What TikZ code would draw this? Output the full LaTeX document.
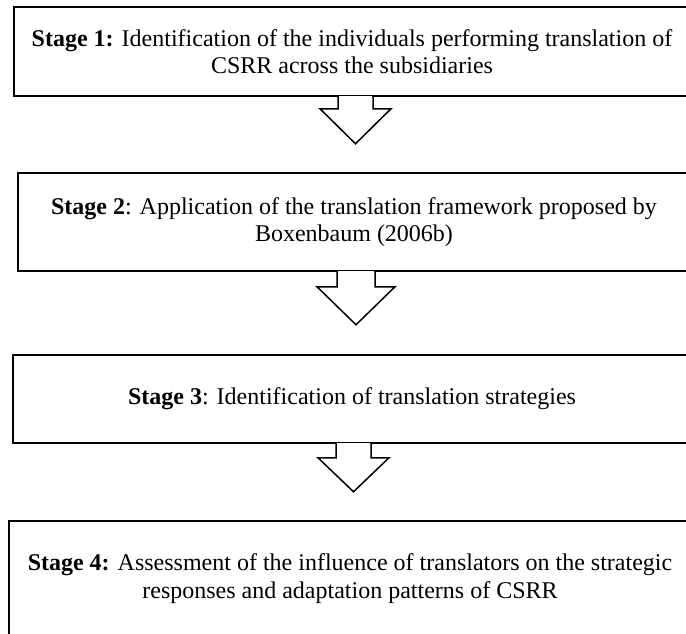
\documentclass[tikz,border=0pt]{standalone}
\usepackage{fontspec}
\setmainfont{Liberation Serif}
\usetikzlibrary{calc}

\tikzset{
  stagebox/.style={draw=black, line width=1.5pt, rectangle, align=center,
    inner sep=0pt, font=\fontsize{24}{27.6}\selectfont},
  outline/.style={draw=black, line width=1.5pt, line join=miter}
}

% block arrow hanging from a box bottom:
% #1 anchor coordinate, #2 half stem width, #3 half head width,
% #4 shoulder depth, #5 tip depth
\newcommand{\blockarrow}[5]{%
  \fill[white] ($(#1)+(-#2+0.75,-1.2)$) rectangle ($(#1)+(#2-0.75,1.2)$);
  \draw[outline] ($(#1)+(-#2,-0.75)$) -- ($(#1)+(-#2,#4)$) -- ($(#1)+(-#3,#4)$)
    -- ($(#1)+(0,#5)$) -- ($(#1)+(#3,#4)$) -- ($(#1)+(#2,#4)$) -- ($(#1)+(#2,-0.75)$);
}

\begin{document}
\begin{tikzpicture}[x=1pt,y=-1pt]
  \useasboundingbox (0,0) rectangle (686,633);
  \clip (0,0) rectangle (686,633);
  \fill[white] (0,0) rectangle (686,633);

  \node[stagebox, minimum width=676pt, minimum height=89pt] (s1) at (352,51.5)
    {\textbf{Stage 1:} Identification of the individuals performing translation of\\CSRR across the subsidiaries};
  \node[stagebox, minimum width=672pt, minimum height=98pt] (s2) at (354,222)
    {\textbf{Stage 2}: Application of the translation framework proposed by\\Boxenbaum (2006b)};
  \node[stagebox, minimum width=678pt, minimum height=88pt] (s3) at (352,399)
    {\textbf{Stage 3}: Identification of translation strategies};
  \node[stagebox, minimum width=682pt, minimum height=115pt] (s4) at (350,578.5)
    {\textbf{Stage 4:} Assessment of the influence of translators on the strategic\\responses and adaptation patterns of CSRR};

  \coordinate (a1) at ($(s1.south)+(3.5,0)$);
  \coordinate (a2) at ($(s2.south)+(2,0)$);
  \coordinate (a3) at ($(s3.south)+(1.5,0)$);

  \blockarrow{a1}{17.5}{35.5}{12}{47}
  \blockarrow{a2}{19}{39}{15}{53}
  \blockarrow{a3}{17.5}{35.5}{14}{48}
\end{tikzpicture}
\end{document}
